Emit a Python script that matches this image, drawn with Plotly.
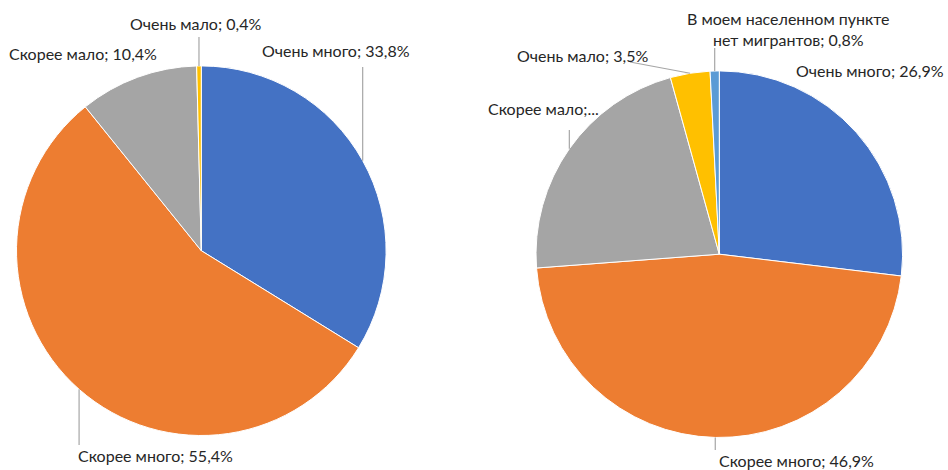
import math
import plotly.graph_objects as go

W, H = 948, 470

# ---- data ----
left_categories = ["Очень много", "Скорее много", "Скорее мало", "Очень мало"]
left_values = [33.8, 55.4, 10.4, 0.4]

right_categories = ["Очень много", "Скорее много", "Скорее мало", "Очень мало",
                    "В моем населенном пункте нет мигрантов"]
right_values = [26.9, 46.9, 21.9, 3.5, 0.8]

left_colors = ["#4472C4", "#ED7D31", "#A5A5A5", "#FFC000"]
right_colors = ["#4472C4", "#ED7D31", "#A5A5A5", "#FFC000", "#5B9BD5"]


def fmt(cat, val):
    return f"{cat}; {val:.1f}%".replace(".", ",")


left_labels = [fmt(c, v) for c, v in zip(left_categories, left_values)]
right_labels = [fmt(c, v) for c, v in zip(right_categories, right_values)]
right_labels[2] = "Скорее мало;..."
right_labels[4] = "В моем населенном пункте<br>нет мигрантов; 0,8%"

# ---- layout geometry (pixels) ----
pies = [
    dict(cx=201.3, cy=250.7, r=184.8, cats=left_categories, vals=left_values,
         colors=left_colors, labels=left_labels,
         # label centre (px), leader tail (px) or None
         lab_pos=[(335.5, 51), (155.5, 455), (83, 53), (195, 24)],
         tails=[(None, 67), (None, 445), None, (None, 37)]),
    dict(cx=719.3, cy=254.2, r=183.3, cats=right_categories, vals=right_values,
         colors=right_colors, labels=right_labels,
         lab_pos=[(870, 71), (796.5, 460), (543.5, 109), (582.5, 55), (788, 28.5)],
         tails=[None, (None, 450), (None, 130), (630, 62), (None, 48)]),
]

fig = go.Figure()
annotations = []
shapes = []
FONT = dict(family="Lato, Carlito, Calibri, sans-serif", size=16, color="#262626")

for p in pies:
    cx, cy, r = p["cx"], p["cy"], p["r"]
    fig.add_trace(go.Pie(
        labels=p["cats"], values=p["vals"], sort=False, direction="clockwise",
        rotation=0, textinfo="none", hoverinfo="label+percent",
        marker=dict(colors=p["colors"], line=dict(color="white", width=1)),
        domain=dict(x=[(cx - r) / W, (cx + r) / W],
                    y=[1 - (cy + r) / H, 1 - (cy - r) / H]),
        showlegend=False,
    ))
    total = sum(p["vals"])
    cum = 0.0
    for i, v in enumerate(p["vals"]):
        mid = (cum + v / 2) / total * 2 * math.pi
        cum += v
        hx = cx + r * math.sin(mid)
        hy = cy - r * math.cos(mid)
        lx, ly = p["lab_pos"][i]
        annotations.append(dict(
            x=lx / W, y=1 - ly / H, xref="paper", yref="paper",
            text=p["labels"][i], showarrow=False, xanchor="center",
            yanchor="middle", align="center", font=FONT))
        t = p["tails"][i]
        if t is not None:
            tx = hx if t[0] is None else t[0]
            ty = t[1]
            shapes.append(dict(type="line", xref="paper", yref="paper",
                               x0=tx / W, y0=1 - ty / H, x1=hx / W, y1=1 - hy / H,
                               line=dict(color="#A6A6A6", width=1.2)))

fig.update_layout(
    width=W, height=H, margin=dict(l=0, r=0, t=0, b=0),
    paper_bgcolor="white", plot_bgcolor="white",
    annotations=annotations, shapes=shapes,
)

fig.write_html("out.html", config={"displayModeBar": False},
               post_script="document.body.style.margin='0';document.body.style.overflow='hidden';")
